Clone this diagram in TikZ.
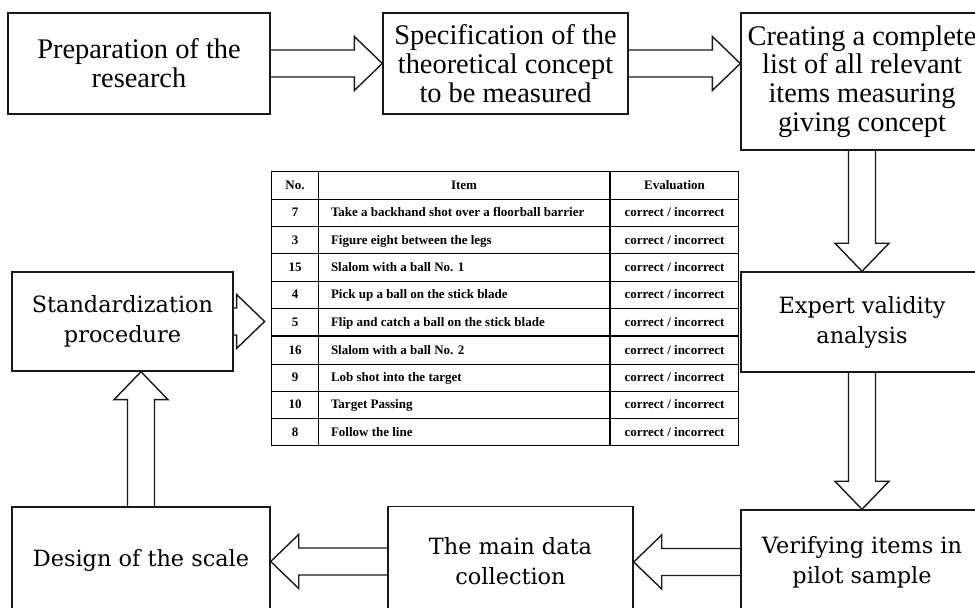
\documentclass[tikz,border=0pt]{standalone}
\usepackage{fontspec}
\setmainfont{Liberation Serif}
\newfontfamily\wideserif{DejaVu Serif}
\usepackage{array}
\usetikzlibrary{calc}

% hollow block arrow between two points
\newcommand{\fatarrow}[2]{%
  \coordinate (fa-h) at ($(#2)!14pt!(#1)$);
  \draw[fat] ($(#1)!6.75pt!90:(#2)$) -- ($(fa-h)!6.75pt!90:(#2)$)
    -- ($(fa-h)!13.5pt!90:(#2)$) -- (#2)
    -- ($(fa-h)!13.5pt!-90:(#2)$) -- ($(fa-h)!6.75pt!-90:(#2)$)
    -- ($(#1)!6.75pt!-90:(#2)$);}
\newcommand{\rs}{\rule[-4.6pt]{0pt}{13.15pt}}

\begin{document}
\begin{tikzpicture}[x=0.5pt,y=-0.5pt]
    \tikzset{box/.style={draw=black!90,line width=0.7pt,align=center,inner sep=2pt,font=\fontsize{14.2}{14.4}\selectfont},
      gbox/.style={box,font=\wideserif\fontsize{11.2}{15}\selectfont},
      fat/.style={draw=black!90,line width=0.7pt,line join=miter}}
    \useasboundingbox (0,0) rectangle (975,608);
    \clip (0,0) rectangle (975,608);
    \node[box,minimum width=131pt,minimum height=50.5pt] (prep) at (139,63.5) {Preparation of the\\research};
    \node[box,minimum width=122.5pt,minimum height=50.5pt] (spec) at (505.5,63.5) {Specification of the\\theoretical concept\\to be measured};
    \node[box,minimum width=121pt,minimum height=68.5pt] (list) at (862,81.5) {Creating a complete\\list of all relevant\\items measuring\\giving concept};
    \node[gbox,minimum width=121pt,minimum height=50pt] (expert) at (862,322) {Expert validity\\analysis};
    \node[gbox,minimum width=121pt,minimum height=52pt] (verify) at (862,562) {Verifying items in\\pilot sample};
    \node[gbox,minimum width=122.5pt,minimum height=55pt] (main) at (510.5,561.5) {The main data\\collection};
    \node[gbox,minimum width=129pt,minimum height=53.5pt] (design) at (141,560.5) {Design of the scale};
    \node[gbox,minimum width=110.5pt,minimum height=49.5pt] (standard) at (122.5,321.5) {Standardization\\procedure};
    \node[inner sep=0pt,font=\fontsize{6.5}{7.5}\selectfont\bfseries] (tbl) at (505,309) {%
      \setlength{\tabcolsep}{3pt}\setlength{\arrayrulewidth}{0.5pt}%
      \begin{tabular}{|>{\centering\arraybackslash}p{17pt}|>{\hspace{3pt}}p{139pt}!{\vrule width 1pt}>{\centering\arraybackslash}p{57.5pt}|}
      \hline
      \rs No. & \multicolumn{1}{c!{\vrule width 1pt}}{Item} & Evaluation \\ \hline
      \rs 7 & Take a backhand shot over a floorball barrier & correct / incorrect \\ \hline
      \rs 3 & Figure eight between the legs & correct / incorrect \\ \hline
      \rs 15 & Slalom with a ball No. 1 & correct / incorrect \\ \hline
      \rs 4 & Pick up a ball on the stick blade & correct / incorrect \\ \hline
      \rs 5 & Flip and catch a ball on the stick blade & correct / incorrect \\ \noalign{\hrule height 1pt}
      \rs 16 & Slalom with a ball No. 2 & correct / incorrect \\ \hline
      \rs 9 & Lob shot into the target & correct / incorrect \\ \hline
      \rs 10 & Target Passing & correct / incorrect \\ \hline
      \rs 8 & Follow the line & correct / incorrect \\ \hline
      \end{tabular}};
    \path (spec.east -| list.west) coordinate (listin);
    \path (standard.east -| tbl.west) ++(-6,0) coordinate (tblin);
    \path (verify.west -| main.east) coordinate (mainin);
    \path (main.west -| design.east) coordinate (designin);
    \path (design.north |- standard.south) coordinate (stdin);
    \fatarrow{prep.east}{spec.west}
    \fatarrow{spec.east}{listin}
    \fatarrow{list.south}{expert.north}
    \fatarrow{expert.south}{verify.north}
    \fatarrow{verify.west}{mainin}
    \fatarrow{main.west}{designin}
    \fatarrow{design.north}{stdin}
    \fatarrow{standard.east}{tblin}
\end{tikzpicture}
\end{document}
